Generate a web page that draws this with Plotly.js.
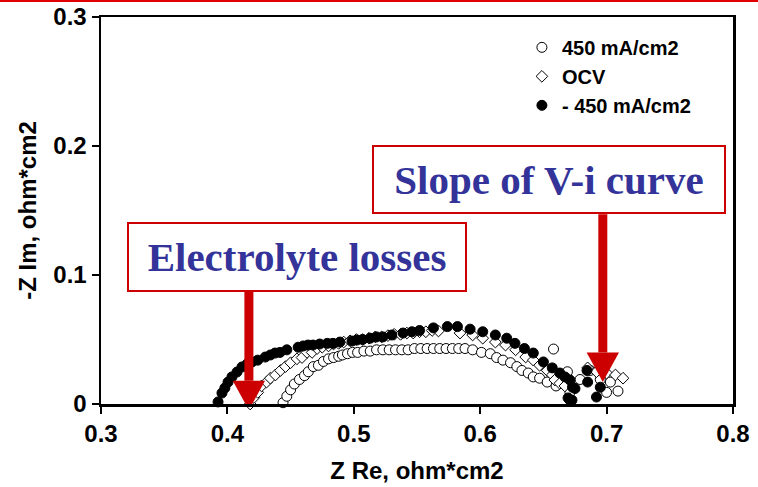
<!DOCTYPE html>
<html>
<head>
<meta charset="utf-8">
<script src="https://cdn.plot.ly/plotly-3.0.1.min.js"></script>
<style>html,body{margin:0;padding:0;background:#fff;} #chart{width:758px;height:487px;}</style>
</head>
<body>
<div id="chart"></div>
<script>
// 450 mA/cm2 (open circles)
const posX = [0.444,0.447,0.450,0.453,0.457,0.461,0.464,0.468,0.472,0.476,0.480,0.484,0.488,0.491,0.495,0.499,0.503,0.508,0.513,0.518,0.523,0.528,0.533,0.538,0.543,0.548,0.553,0.558,0.563,0.568,0.573,0.578,0.583,0.588,0.594,0.601,0.608,0.613,0.618,0.624,0.629,0.633,0.638,0.642,0.647,0.653,0.658,0.660,0.669,0.671,0.679,0.687,0.695,0.700,0.703,0.709];
const posY = [0.001,0.006,0.011,0.0155,0.019,0.022,0.025,0.029,0.030,0.033,0.035,0.036,0.037,0.038,0.039,0.040,0.040,0.041,0.041,0.042,0.042,0.042,0.042,0.042,0.042,0.043,0.043,0.043,0.043,0.043,0.043,0.043,0.043,0.043,0.042,0.040,0.039,0.036,0.034,0.032,0.029,0.026,0.024,0.021,0.020,0.017,0.0426,0.014,0.025,0.009,0.019,0.026,0.019,0.009,0.017,0.010];
// OCV (open diamonds)
const ocvX = [0.418,0.421,0.424,0.427,0.431,0.434,0.438,0.442,0.446,0.450,0.455,0.459,0.463,0.467,0.471,0.475,0.480,0.484,0.488,0.492,0.497,0.502,0.507,0.512,0.517,0.522,0.527,0.532,0.537,0.542,0.547,0.552,0.557,0.562,0.567,0.584,0.594,0.602,0.612,0.620,0.628,0.636,0.642,0.647,0.653,0.657,0.659,0.663,0.667,0.685,0.692,0.700,0.707,0.713];
const ocvY = [0.000,0.005,0.009,0.014,0.017,0.020,0.0225,0.026,0.029,0.032,0.035,0.036,0.040,0.040,0.043,0.044,0.045,0.0465,0.047,0.048,0.049,0.050,0.050,0.051,0.052,0.052,0.053,0.054,0.054,0.055,0.055,0.056,0.056,0.057,0.0566,0.055,0.0535,0.051,0.048,0.0457,0.042,0.0364,0.034,0.030,0.026,0.0225,0.0186,0.016,0.014,0.028,0.025,0.024,0.0225,0.020];
// -450 mA/cm2 (filled circles)
const negX = [0.3926,0.3957,0.398,0.4005,0.4036,0.4076,0.4115,0.4155,0.4195,0.424,0.430,0.434,0.4377,0.4416,0.447,0.456,0.460,0.4638,0.4677,0.473,0.479,0.4835,0.489,0.4986,0.5025,0.507,0.513,0.518,0.523,0.530,0.539,0.546,0.552,0.563,0.574,0.582,0.592,0.602,0.612,0.621,0.6275,0.635,0.642,0.650,0.657,0.663,0.667,0.671,0.673,0.675,0.6695,0.671,0.6726,0.6845,0.685,0.695,0.692];
const negY = [0.0016,0.0085,0.0124,0.017,0.021,0.0248,0.0287,0.031,0.0326,0.034,0.0364,0.038,0.0395,0.040,0.042,0.044,0.045,0.0457,0.0457,0.0465,0.047,0.047,0.048,0.0488,0.0496,0.050,0.051,0.052,0.052,0.0535,0.055,0.056,0.057,0.059,0.060,0.060,0.058,0.056,0.0535,0.051,0.047,0.043,0.0395,0.0326,0.028,0.024,0.021,0.0186,0.013,0.012,0.0047,0.003,0.003,0.026,0.017,0.013,0.0054];

const seriesNames = ['450 mA/cm2', 'OCV', '- 450 mA/cm2'];
const xTicks = [0.3,0.4,0.5,0.6,0.7,0.8];
const xTickText = ['0.3','0.4','0.5','0.6','0.7','0.8'];
const yTicks = [0,0.1,0.2,0.3];
const yTickText = ['0','0.1','0.2','0.3'];
const calloutTexts = ['Electrolyte losses', 'Slope of V-i curve'];

const sans = 'Arial, "Liberation Sans", sans-serif';
const serif = '"Times New Roman", "Liberation Serif", serif';
const red = '#cc0000';
const navy = '#333399';

const traces = [
  {x: posX, y: posY, name: seriesNames[0], type: 'scatter', mode: 'markers', cliponaxis: false, legendgroup: 'a',
   marker: {symbol: 'circle', size: 10, color: '#fff', line: {color: '#000', width: 1}}},
  {x: ocvX, y: ocvY, name: seriesNames[1], type: 'scatter', mode: 'markers', cliponaxis: false, legendgroup: 'b',
   marker: {symbol: 'diamond', size: 9, color: '#fff', line: {color: '#000', width: 1}}},
  {x: negX, y: negY, name: seriesNames[2], type: 'scatter', mode: 'markers', cliponaxis: false, legendgroup: 'c',
   marker: {symbol: 'circle', size: 10, color: '#000', line: {color: '#000', width: 1}}}
];

// arrow geometry (data units)
const a1x = 0.417, a1top = 0.0868, a1base = 0.018, a1tip = -0.0047;
const a2x = 0.697, a2top = 0.147, a2base = 0.040, a2tip = 0.017;
const hw = 0.0128;

const layout = {
  width: 758, height: 487,
  margin: {l: 101, r: 25, t: 17, b: 83},
  paper_bgcolor: '#fff', plot_bgcolor: '#fff',
  showlegend: true,
  legend: {x: 0.666, y: 0.972, xanchor: 'left', yanchor: 'top', bgcolor: 'rgba(0,0,0,0)',
           font: {family: sans, size: 20, color: '#000', weight: 'bold'}, tracegroupgap: 0, itemwidth: 30},
  xaxis: {range: [0.3, 0.8], tickvals: xTicks, ticktext: xTickText, showgrid: false, zeroline: false,
          showline: true, mirror: true, linecolor: '#000', linewidth: 2.5,
          ticks: 'outside', ticklen: 7, tickwidth: 2, tickcolor: '#000',
          tickfont: {family: sans, size: 24, color: '#000', weight: 'bold'},
          title: {text: 'Z Re, ohm*cm2', font: {family: sans, size: 24, color: '#000', weight: 'bold'}, standoff: 16}},
  yaxis: {range: [0, 0.3], tickvals: yTicks, ticktext: yTickText, showgrid: false, zeroline: false,
          showline: true, mirror: true, linecolor: '#000', linewidth: 2.5,
          ticks: 'outside', ticklen: 7, tickwidth: 2, tickcolor: '#000',
          tickfont: {family: sans, size: 24, color: '#000', weight: 'bold'},
          title: {text: '-Z Im, ohm*cm2', font: {family: sans, size: 24, color: '#000', weight: 'bold'}, standoff: 10}},
  shapes: [
    {type: 'line', xref: 'paper', yref: 'paper', x0: -0.17, x1: 1.05, y0: 1.042, y1: 1.042, line: {color: '#e00000', width: 2.5}},
    {type: 'line', xref: 'x', yref: 'y', x0: a1x, x1: a1x, y0: a1top, y1: a1base, layer: 'above', line: {color: red, width: 9}},
    {type: 'path', xref: 'x', yref: 'y', layer: 'above', fillcolor: red, line: {color: red, width: 0},
     path: `M ${a1x-hw} ${a1base} L ${a1x+hw} ${a1base} L ${a1x} ${a1tip} Z`},
    {type: 'line', xref: 'x', yref: 'y', x0: a2x, x1: a2x, y0: a2top, y1: a2base, layer: 'above', line: {color: red, width: 9}},
    {type: 'path', xref: 'x', yref: 'y', layer: 'above', fillcolor: red, line: {color: red, width: 0},
     path: `M ${a2x-hw} ${a2base} L ${a2x+hw} ${a2base} L ${a2x} ${a2tip} Z`}
  ],
  annotations: [
    {xref: 'x', yref: 'y', x: 0.455, y: 0.114, text: '<b>' + calloutTexts[0] + '</b>', showarrow: false,
     width: 336, height: 66, bgcolor: '#fff', bordercolor: red, borderwidth: 2, borderpad: 0,
     font: {family: serif, size: 41, color: navy}},
    {xref: 'x', yref: 'y', x: 0.6544, y: 0.174, text: '<b>' + calloutTexts[1] + '</b>', showarrow: false,
     width: 350, height: 65, bgcolor: '#fff', bordercolor: red, borderwidth: 2, borderpad: 0,
     font: {family: serif, size: 41, color: navy}}
  ]
};

Plotly.newPlot('chart', traces, layout, {displayModeBar: false, staticPlot: true});
</script>
</body>
</html>
